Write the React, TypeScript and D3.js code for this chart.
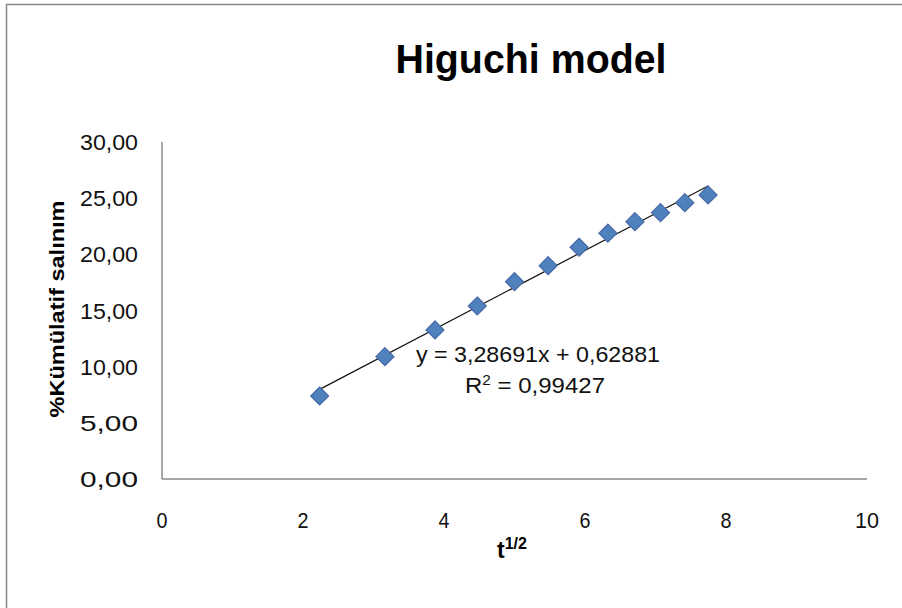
import React from "react";
import * as d3 from "d3";

const sqrtTime = [2.236, 3.162, 3.873, 4.472, 5.0, 5.477, 5.916, 6.325, 6.708, 7.071, 7.416, 7.746];
const cumulativeRelease = [7.39, 10.89, 13.27, 15.4, 17.57, 18.99, 20.63, 21.88, 22.91, 23.71, 24.6, 25.29];
const xTicks = [0, 2, 4, 6, 8, 10];
const yTicks = [0, 5, 10, 15, 20, 25, 30];
const slope = 3.28691;
const intercept = 0.62881;
const titleText = "Higuchi model";
const yLabelText = "%Kümülatif  salınım";
const eqText = "y = 3,28691x + 0,62881";

const W = 902;
const H = 608;
const FONT = "'Liberation Sans', Arial, sans-serif";

export default function App() {
  const x = d3.scaleLinear().domain([0, 10]).range([162, 867]);
  const y = d3.scaleLinear().domain([0, 30]).range([479, 142]);
  const fmt = (v: number) => v.toFixed(2).replace(".", ",");
  const xMin = d3.min(sqrtTime)!;
  const xMax = d3.max(sqrtTime)!;
  const line = d3.line<number>().x((d) => x(d)).y((d) => y(slope * d + intercept));
  const r = 9;
  const diamond = (cx: number, cy: number) =>
    `M${cx},${cy - r}L${cx + r},${cy}L${cx},${cy + r}L${cx - r},${cy}Z`;

  return (
    <svg width={W} height={H} style={{ position: "absolute", left: 0, top: 0 }} fontFamily={FONT}>
      <rect x={0} y={0} width={W} height={H} fill="#fff" />
      <rect x={6.5} y={4.5} width={W + 20} height={H + 20} fill="none" stroke="#888" strokeWidth={1.5} />
      <text x={531} y={73} textAnchor="middle" fontWeight="bold" fontSize={41} textLength={271} lengthAdjust="spacingAndGlyphs">
        {titleText}
      </text>
      {/* axes */}
      <line x1={x(0)} x2={x(0)} y1={y(30)} y2={y(0)} stroke="#8a8a8a" strokeWidth={1.5} />
      <line x1={x(0)} x2={x(10)} y1={y(0)} y2={y(0)} stroke="#8a8a8a" strokeWidth={1.5} />
      {yTicks.map((t) => (
        <text key={t} x={138} y={y(t) + 8} textAnchor="end" fontSize={22} textLength={58} lengthAdjust="spacingAndGlyphs" fill="#111">
          {fmt(t)}
        </text>
      ))}
      {xTicks.map((t) => (
        <text
          key={t}
          x={x(t)}
          y={528}
          textAnchor="middle"
          fontSize={22}
          fill="#111"
          textLength={t >= 10 ? 24 : 11}
          lengthAdjust="spacingAndGlyphs"
        >
          {t}
        </text>
      ))}
      <text
        transform={`translate(64,${309}) rotate(-90)`}
        textAnchor="middle"
        fontWeight="bold"
        fontSize={21}
        textLength={217}
        lengthAdjust="spacingAndGlyphs"
      >
        {yLabelText}
      </text>
      <text x={497} y={558} fontWeight="bold" fontSize={23}>
        t<tspan dy={-9} fontSize={16}>1/2</tspan>
      </text>
      {/* trendline */}
      <path d={line([xMin, xMax]) || ""} stroke="#111" strokeWidth={1.2} fill="none" />
      {sqrtTime.map((v, i) => (
        <path key={i} d={diamond(x(v), y(cumulativeRelease[i]))} fill="#4F81BD" stroke="#4868a8" strokeWidth={1.2} />
      ))}
      <text x={538} y={362} textAnchor="middle" fontSize={22} textLength={244} lengthAdjust="spacingAndGlyphs" fill="#111">
        {eqText}
      </text>
      <text x={535} y={393} textAnchor="middle" fontSize={22} textLength={140} lengthAdjust="spacingAndGlyphs" fill="#111">
        R<tspan dy={-8} fontSize={14}>2</tspan>
        <tspan dy={8}> = 0,99427</tspan>
      </text>
    </svg>
  );
}
